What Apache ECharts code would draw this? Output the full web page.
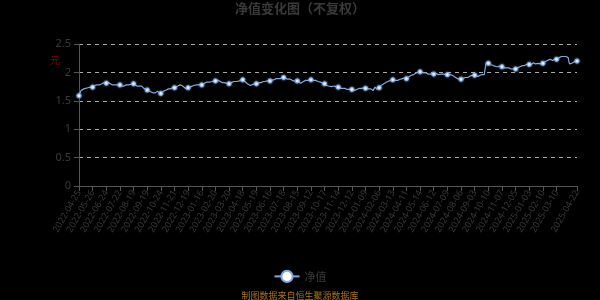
<!DOCTYPE html>
<html><head><meta charset="utf-8">
<script src="https://cdn.jsdelivr.net/npm/echarts@6/dist/echarts.min.js"></script>
<style>html,body{margin:0;padding:0;background:#000;}#c{width:600px;height:300px;}</style>
</head><body><div id="c"></div>
<script>
// Tick-label dates (every 20th trading day, plus the last day)
const labelDates = ["2022-04-25","2022-05-26","2022-06-24","2022-07-22","2022-08-19","2022-09-19","2022-10-24","2022-11-21","2022-12-19",
"2023-01-16","2023-02-20","2023-03-20","2023-04-18","2023-05-19","2023-06-16","2023-07-18","2023-08-15","2023-09-12","2023-10-17","2023-11-14","2023-12-12",
"2024-01-09","2024-02-06","2024-03-13","2024-04-11","2024-05-14","2024-06-12","2024-07-09","2024-08-06","2024-09-03","2024-10-10","2024-11-07","2024-12-05",
"2025-01-03","2025-02-10","2025-03-10","2025-04-22"];
// Index of each labelled date in the daily series
const labelIndex = [0,20,40,60,80,100,120,140,160,180,200,220,240,260,280,300,320,340,360,380,400,420,440,460,480,500,520,540,560,580,600,620,640,660,680,700,730];

// Daily net value (不复权)
const navValues = [
1.59,1.63,1.66,1.68,1.69,1.70,1.70,1.71,1.72,1.71,1.72,1.73,1.72,1.73,1.74,1.75,1.75,1.74,1.75,1.75,
1.74,1.75,1.76,1.77,1.78,1.77,1.78,1.79,1.79,1.78,1.79,1.78,1.79,1.80,1.80,1.81,1.81,1.82,1.82,1.82,
1.81,1.82,1.83,1.83,1.82,1.81,1.80,1.79,1.79,1.78,1.78,1.77,1.77,1.78,1.79,1.79,1.78,1.78,1.79,1.78,
1.78,1.77,1.77,1.76,1.76,1.75,1.76,1.77,1.77,1.78,1.78,1.79,1.78,1.79,1.80,1.80,1.79,1.80,1.81,1.80,
1.80,1.79,1.78,1.78,1.77,1.76,1.76,1.75,1.75,1.76,1.77,1.77,1.76,1.74,1.73,1.72,1.72,1.71,1.70,1.70,
1.69,1.68,1.68,1.67,1.67,1.66,1.66,1.65,1.65,1.64,1.64,1.65,1.64,1.65,1.66,1.67,1.66,1.65,1.64,1.64,
1.63,1.64,1.65,1.66,1.67,1.67,1.68,1.68,1.69,1.70,1.70,1.71,1.71,1.70,1.71,1.72,1.72,1.73,1.72,1.73,
1.73,1.74,1.74,1.75,1.75,1.76,1.77,1.77,1.78,1.78,1.78,1.77,1.76,1.75,1.74,1.73,1.72,1.71,1.71,1.72,
1.73,1.73,1.74,1.74,1.75,1.75,1.76,1.76,1.77,1.76,1.77,1.77,1.78,1.78,1.77,1.78,1.79,1.78,1.79,1.78,
1.78,1.79,1.80,1.80,1.81,1.82,1.82,1.83,1.83,1.84,1.84,1.83,1.84,1.85,1.85,1.84,1.85,1.86,1.85,1.85,
1.85,1.86,1.86,1.87,1.86,1.85,1.85,1.84,1.83,1.83,1.82,1.82,1.81,1.82,1.81,1.80,1.81,1.80,1.81,1.80,
1.80,1.81,1.81,1.82,1.82,1.83,1.83,1.84,1.84,1.85,1.85,1.84,1.85,1.86,1.86,1.85,1.86,1.87,1.86,1.87,
1.87,1.86,1.85,1.84,1.83,1.82,1.81,1.80,1.79,1.78,1.78,1.77,1.77,1.78,1.78,1.79,1.79,1.80,1.79,1.80,
1.80,1.80,1.81,1.81,1.82,1.82,1.83,1.82,1.83,1.83,1.84,1.84,1.83,1.84,1.85,1.84,1.85,1.85,1.86,1.85,
1.85,1.86,1.86,1.87,1.87,1.88,1.87,1.88,1.88,1.89,1.89,1.88,1.89,1.90,1.90,1.89,1.90,1.91,1.91,1.92,
1.91,1.91,1.90,1.90,1.89,1.89,1.88,1.88,1.87,1.87,1.88,1.87,1.86,1.86,1.85,1.85,1.86,1.85,1.84,1.85,
1.85,1.84,1.83,1.82,1.82,1.81,1.82,1.83,1.83,1.84,1.85,1.85,1.86,1.86,1.87,1.86,1.87,1.87,1.86,1.87,
1.87,1.86,1.86,1.87,1.86,1.86,1.85,1.86,1.85,1.85,1.84,1.85,1.84,1.84,1.83,1.82,1.82,1.81,1.80,1.80,
1.80,1.79,1.78,1.77,1.77,1.77,1.76,1.77,1.76,1.76,1.75,1.76,1.75,1.75,1.76,1.75,1.74,1.75,1.74,1.74,
1.74,1.73,1.73,1.72,1.72,1.73,1.72,1.72,1.71,1.71,1.72,1.71,1.71,1.70,1.70,1.71,1.70,1.70,1.71,1.70,
1.70,1.69,1.69,1.68,1.68,1.69,1.69,1.70,1.70,1.71,1.71,1.72,1.72,1.71,1.72,1.73,1.72,1.72,1.73,1.72,
1.72,1.71,1.71,1.70,1.70,1.71,1.72,1.72,1.71,1.70,1.69,1.68,1.69,1.71,1.74,1.73,1.71,1.70,1.72,1.73,
1.73,1.75,1.76,1.77,1.78,1.79,1.80,1.80,1.81,1.82,1.82,1.83,1.83,1.84,1.84,1.85,1.86,1.85,1.86,1.86,
1.87,1.86,1.86,1.87,1.86,1.86,1.85,1.86,1.86,1.87,1.87,1.88,1.87,1.88,1.89,1.88,1.89,1.90,1.89,1.89,
1.89,1.90,1.91,1.92,1.92,1.93,1.94,1.94,1.95,1.95,1.96,1.96,1.97,1.98,1.98,1.99,2.00,2.00,2.01,2.02,
2.01,2.01,2.00,2.00,1.99,1.99,1.99,1.98,1.98,1.99,1.98,1.98,1.97,1.98,1.98,1.97,1.97,1.98,1.97,1.97,
1.97,1.98,1.97,1.97,1.98,1.97,1.97,1.96,1.97,1.96,1.96,1.97,1.96,1.96,1.97,1.96,1.95,1.96,1.96,1.95,
1.96,1.96,1.97,1.97,1.96,1.97,1.96,1.95,1.94,1.93,1.93,1.92,1.91,1.90,1.90,1.89,1.90,1.89,1.88,1.89,
1.88,1.88,1.89,1.89,1.90,1.90,1.91,1.91,1.92,1.92,1.91,1.92,1.93,1.93,1.94,1.93,1.94,1.95,1.94,1.95,
1.95,1.94,1.94,1.93,1.93,1.93,1.94,1.94,1.95,1.95,1.95,1.96,1.95,1.94,1.96,2.04,2.12,2.17,2.16,2.17,
2.16,2.15,2.14,2.13,2.13,2.12,2.13,2.12,2.12,2.11,2.12,2.11,2.11,2.10,2.11,2.10,2.10,2.11,2.10,2.10,
2.10,2.09,2.09,2.08,2.08,2.09,2.08,2.08,2.07,2.07,2.08,2.07,2.07,2.06,2.06,2.07,2.06,2.06,2.07,2.06,
2.06,2.07,2.07,2.08,2.09,2.09,2.10,2.10,2.11,2.11,2.12,2.12,2.13,2.12,2.13,2.13,2.14,2.13,2.14,2.14,
2.14,2.14,2.15,2.14,2.15,2.16,2.17,2.17,2.16,2.15,2.16,2.15,2.15,2.16,2.15,2.16,2.16,2.15,2.16,2.16,
2.16,2.17,2.18,2.18,2.19,2.20,2.21,2.21,2.22,2.23,2.24,2.23,2.22,2.22,2.21,2.22,2.22,2.23,2.22,2.23,
2.23,2.24,2.24,2.25,2.26,2.26,2.27,2.28,2.28,2.27,2.27,2.28,2.27,2.27,2.28,2.28,2.27,2.26,2.20,2.15,
2.14,2.15,2.16,2.17,2.17,2.18,2.18,2.19,2.19,2.20,2.20
];
const yTicks = [0, 0.5, 1, 1.5, 2, 2.5];

// Build full daily category list: labelled dates, with the weekdays in between
function fmt(d){const m=d.getUTCMonth()+1, dd=d.getUTCDate();return d.getUTCFullYear()+'-'+(m<10?'0':'')+m+'-'+(dd<10?'0':'')+dd;}
const dates = [];
for (let i = 0; i < labelDates.length; i++) {
  dates.push(labelDates[i]);
  if (i === labelDates.length - 1) break;
  const need = labelIndex[i+1] - labelIndex[i] - 1;
  const d = new Date(labelDates[i] + 'T00:00:00Z');
  let n = 0;
  while (n < need) {
    d.setUTCDate(d.getUTCDate() + 1);
    const wd = d.getUTCDay();
    if (wd !== 0 && wd !== 6) { dates.push(fmt(d)); n++; }
  }
}
const labelSet = new Set(labelIndex);

const chart = echarts.init(document.getElementById('c'), null, {renderer: 'canvas'});
chart.setOption({
  backgroundColor: '#000',
  animation: false,
  title: {
    text: '净值变化图（不复权）', left: 'center', top: -3,
    textStyle: {color: '#3a3a3a', fontSize: 13, fontWeight: 'bold', fontFamily: 'Noto Sans CJK SC'}
  },
  legend: {
    bottom: 12, left: 'center', itemWidth: 25, itemHeight: 14,
    data: ['净值'],
    textStyle: {color: '#3a3a3a', fontSize: 11, fontFamily: 'Noto Sans CJK SC'}
  },
  graphic: [{
    type: 'text', left: 'center', bottom: 0,
    style: {text: '制图数据来自恒生聚源数据库', fill: '#a8741a', fontSize: 9, fontFamily: 'Noto Sans CJK SC'}
  }],
  grid: {left: 79, right: 23, top: 44, bottom: 114},
  xAxis: {
    type: 'category', data: dates, boundaryGap: false,
    axisLine: {lineStyle: {color: '#555'}},
    axisTick: {show: true, interval: (i) => labelSet.has(i), lineStyle: {color: '#555'}},
    axisLabel: {
      interval: (i) => labelSet.has(i), rotate: 60, color: '#3a3a3a', fontSize: 9,
      fontFamily: 'Noto Sans', margin: 5, showMinLabel: true, showMaxLabel: true, hideOverlap: false
    },
    splitLine: {show: false}
  },
  yAxis: {
    type: 'value', min: yTicks[0], max: yTicks[yTicks.length-1], interval: 0.5,
    name: '元', nameLocation: 'end', nameGap: -21,
    nameTextStyle: {color: '#8b0000', fontSize: 10, padding: [0, 48, 0, 0], fontFamily: 'Noto Sans CJK SC'},
    axisLine: {show: true, lineStyle: {color: '#555'}},
    axisTick: {show: true, lineStyle: {color: '#555'}},
    axisLabel: {color: '#3a3a3a', fontSize: 11, fontFamily: 'Noto Sans', margin: 8},
    splitLine: {show: true, lineStyle: {color: '#aaa', type: [4, 4], width: 1}}
  },
  series: [{
    name: '净值', type: 'line', data: navValues,
    symbol: 'circle', symbolSize: 4, showAllSymbol: 'auto',
    lineStyle: {color: '#7ea9df', width: 1.2},
    itemStyle: {color: '#ffffff', borderColor: '#7ea9df', borderWidth: 1, shadowColor: '#9cc3f5', shadowBlur: 2}
  }]
});
</script>
</body></html>
